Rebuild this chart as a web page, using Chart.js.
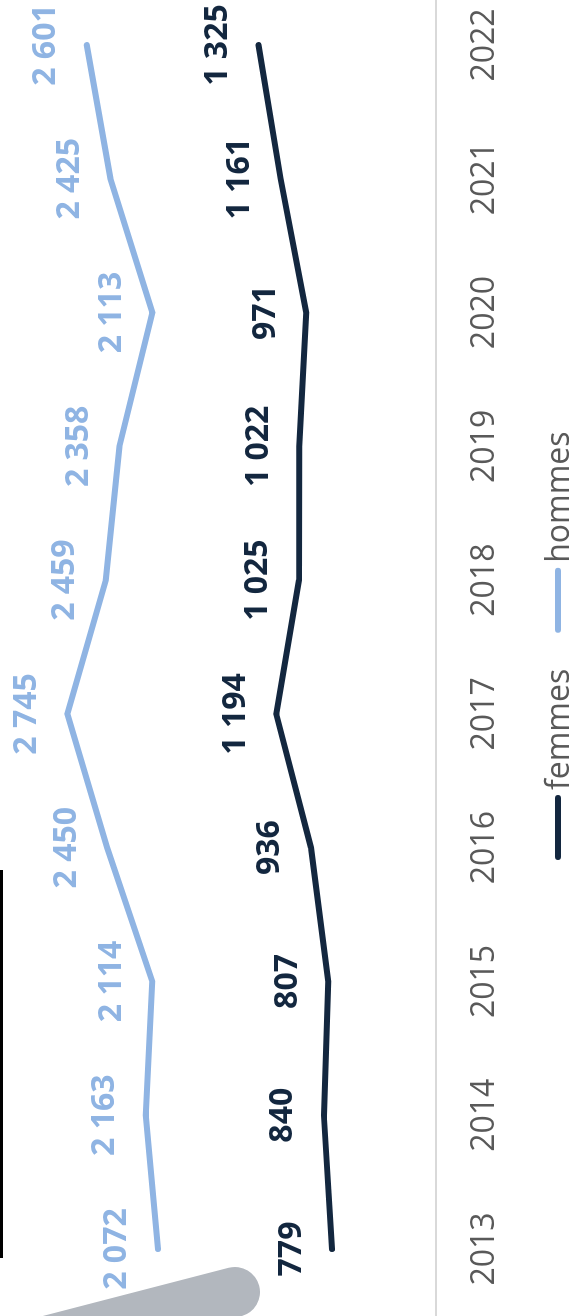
<!DOCTYPE html>
<html>
<head>
<meta charset="utf-8">
<script src="https://cdn.jsdelivr.net/npm/chart.js@4/dist/chart.umd.min.js"></script>
<style>
  html, body { margin: 0; padding: 0; background: #fff; overflow: hidden; }
  body { width: 572px; height: 1316px; position: relative; }
  /* chart is drawn landscape, then turned a quarter turn to the left */
  #wrap { position: absolute; left: 0; top: 0; width: 1316px; height: 572px;
          transform-origin: 0 0; transform: translate(0, 1316px) rotate(-90deg); }
  #bar { position: absolute; left: 0; top: 870px; width: 3px; height: 388px; background: #000; }
  #blob { position: absolute; left: 0; top: 1220px; }
</style>
</head>
<body>
<div id="wrap"><canvas id="myChart" width="1316" height="572"></canvas></div>
<div id="bar"></div>
<svg id="blob" width="300" height="96">
  <line x1="50" y1="120" x2="235" y2="72" stroke="#b2b7be" stroke-width="50" stroke-linecap="round"/>
</svg>
<script>
const years = ['2013', '2014', '2015', '2016', '2017', '2018', '2019', '2020', '2021', '2022'];
const femmes = [779, 840, 807, 936, 1194, 1025, 1022, 971, 1161, 1325];
const hommes = [2072, 2163, 2114, 2450, 2745, 2459, 2358, 2113, 2425, 2601];

const navy = '#13273f';
const lightBlue = '#8fb4e3';
const grey = '#595959';

function fmt(v) {
  if (v < 1000) return String(v);
  return Math.floor(v / 1000) + ' ' + String(v % 1000).padStart(3, '0');
}

const extras = {
  id: 'extras',
  afterDatasetsDraw(chart) {
    const ctx = chart.ctx;
    const area = chart.chartArea;
    ctx.save();

    // axis line runs the whole width
    ctx.strokeStyle = '#d9d9d9';
    ctx.lineWidth = 2;
    ctx.beginPath();
    ctx.moveTo(0, area.bottom - 1);
    ctx.lineTo(chart.width, area.bottom - 1);
    ctx.stroke();

    // value labels above each point
    ctx.font = 'bold 32px "Open Sans"';
    ctx.textAlign = 'center';
    ctx.textBaseline = 'alphabetic';
    chart.data.datasets.forEach((ds, i) => {
      ctx.fillStyle = ds.borderColor;
      chart.getDatasetMeta(i).data.forEach((pt, j) => {
        ctx.fillText(fmt(ds.data[j]), pt.x, pt.y - 31.5);
      });
    });

    // legend
    ctx.font = '32px "Open Sans"';
    ctx.textAlign = 'left';
    let x = 456;
    chart.data.datasets.forEach(ds => {
      ctx.strokeStyle = ds.borderColor;
      ctx.lineWidth = 6;
      ctx.lineCap = 'round';
      ctx.beginPath();
      ctx.moveTo(x + 3, 558);
      ctx.lineTo(x + 62, 558);
      ctx.stroke();
      x += 70;
      ctx.fillStyle = grey;
      ctx.fillText(ds.label, x, 569);
      x += ctx.measureText(ds.label).width + 36;
    });
    ctx.restore();
  }
};

const data = {
  labels: years,
  datasets: [{
    label: 'femmes',
    data: femmes,
    borderColor: navy,
    backgroundColor: navy
  }, {
    label: 'hommes',
    data: hommes,
    borderColor: lightBlue,
    backgroundColor: lightBlue
  }]
};

const config = {
  type: 'line',
  data: data,
  options: {
    responsive: false,
    animation: false,
    clip: false,
    layout: {
      padding: { top: 33, left: 67, right: 45, bottom: 0 }
    },
    elements: {
      line: { borderWidth: 6, tension: 0, borderCapStyle: 'round' },
      point: { radius: 0 }
    },
    plugins: {
      legend: { display: false },
      tooltip: { enabled: false }
    },
    scales: {
      x: {
        grid: { display: false, drawTicks: false },
        border: { display: false },
        ticks: {
          color: grey,
          font: { family: 'Open Sans', size: 32 },
          padding: 29,
          maxRotation: 0,
          autoSkip: false
        },
        afterFit: function(scale) {
          scale.height = 135;
          scale.paddingLeft = 0;
          scale.paddingRight = 0;
        }
      },
      y: {
        display: false,
        min: 0,
        max: 3000
      }
    }
  },
  plugins: [extras]
};

const myChart = new Chart(document.getElementById('myChart'), config);
</script>
</body>
</html>
